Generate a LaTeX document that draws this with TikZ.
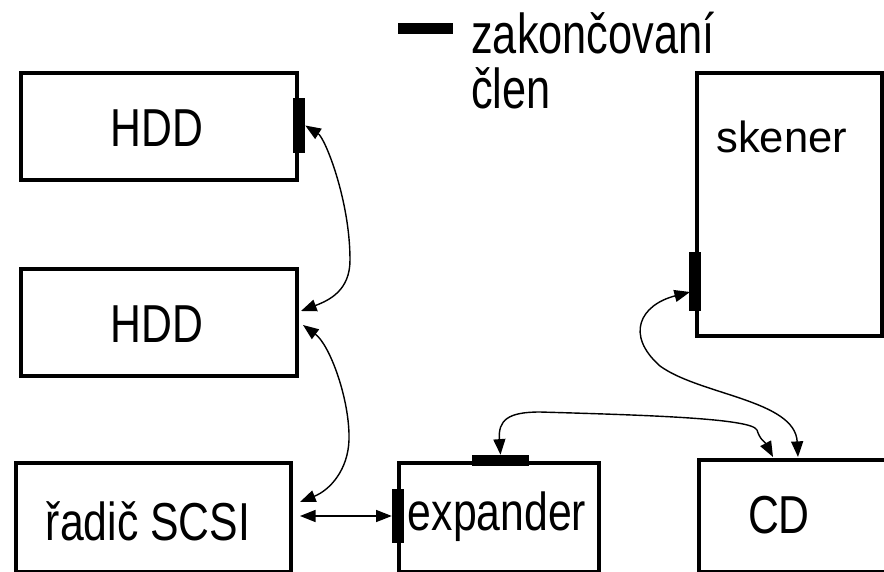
\documentclass[tikz,border=0pt]{standalone}
\usepackage{fontspec}
\setmainfont{Liberation Sans}
\newfontfamily\boxfont{Liberation Sans}[FakeStretch=0.8]
\newfontfamily\legfont{Liberation Sans}[FakeStretch=0.77]
\usetikzlibrary{arrows.meta}
\begin{document}
\begin{tikzpicture}
  [x=0.025cm,y=-0.025cm,
   unit/.style={draw,line width=2.5pt,inner sep=0pt},
   term/.style={fill=black,inner sep=0pt,minimum width=0.3cm},
   caption/.style={font=\boxfont\fontsize{38}{42}\selectfont,anchor=base,inner sep=0pt},
   legtext/.style={font=\legfont\fontsize{40}{44}\selectfont,anchor=base west,inner sep=0pt},
   link/.style={{Triangle[length=3.9mm,width=3mm]}-{Triangle[length=3.9mm,width=3mm]},line width=1pt}]
    \useasboundingbox (0,0) rectangle (884,572);

    % devices
    \node (hdd1)   [unit,minimum width=6.9cm,minimum height=2.675cm]   at (159,126.5) {};
    \node (hdd2)   [unit,minimum width=6.9cm,minimum height=2.675cm]   at (159,322.5) {};
    \node (radic)  [unit,minimum width=6.875cm,minimum height=2.725cm] at (153.5,517.5) {};
    \node (exp)    [unit,minimum width=5cm,minimum height=2.725cm]     at (499,517.5) {};
    \node (cd)     [unit,minimum width=4.825cm,minimum height=2.8cm]   at (795.5,516) {};
    \node (skener) [unit,minimum width=4.625cm,minimum height=6.575cm] at (789.5,204.5) {};

    % terminators
    \node (t1)  [term,minimum height=1.375cm] at (299,125.5) {};
    \node (t2)  [term,minimum height=1.475cm] at (695,281.5) {};
    \node (t3)  [term,minimum height=1.35cm]  at (398,516) {};
    \node (t4)  [term,minimum width=1.425cm,minimum height=0.275cm] at (500.5,460.5) {};
    \node (leg) [term,minimum width=1.375cm,minimum height=0.275cm] at (425.5,28.5) {};

    \node (hdd1txt)  [caption] at (157,146) {HDD};
    \node (hdd2txt)  [caption] at (157,342) {HDD};
    \node (radictxt) [caption] at (148,540) {řadič SCSI};
    \node (exptxt)   [caption] at (497,530) {expander};
    \node (cdtxt)    [caption] at (779,533) {CD};
    \node (skenertxt)[font=\fontsize{31}{35}\selectfont,anchor=base west,inner sep=0pt] at (716,152) {skener};
    \node (legtxt1)  [legtext] at (471,53)  {zakončovaní};
    \node (legtxt2)  [legtext] at (471,108) {člen};

    \coordinate (h2a) at (301,311);
    \coordinate (h2b) at (303,325);
    \coordinate (r1)  at (300,502);
    \coordinate (r2)  at (300,516);
    \coordinate (s1)  at (690,292);
    \coordinate (c1)  at (798,457);
    \coordinate (c2)  at (773,457);

    % cables
    \draw[link] (t1.east) .. controls (325,138) and (350,200) .. (350,260)
                          .. controls (350,290) and (330,300) .. (h2a);
    \draw[link] (h2b) .. controls (330,345) and (350,400) .. (349,440)
                      .. controls (348,470) and (330,490) .. (r1);
    \draw[link] (r2) -- (t3.west);
    \draw[link] (s1) .. controls (640,305) and (625,335) .. (660,366)
                     .. controls (700,395) and (795,400) .. (c1);
    \draw[link] (t4.north) .. controls (498,420) and (508,412) .. (540,412)
                           .. controls (640,415) and (752,418) .. (757,430)
                           .. controls (760,440) and (765,442) .. (c2);
  \end{tikzpicture}
\end{document}
